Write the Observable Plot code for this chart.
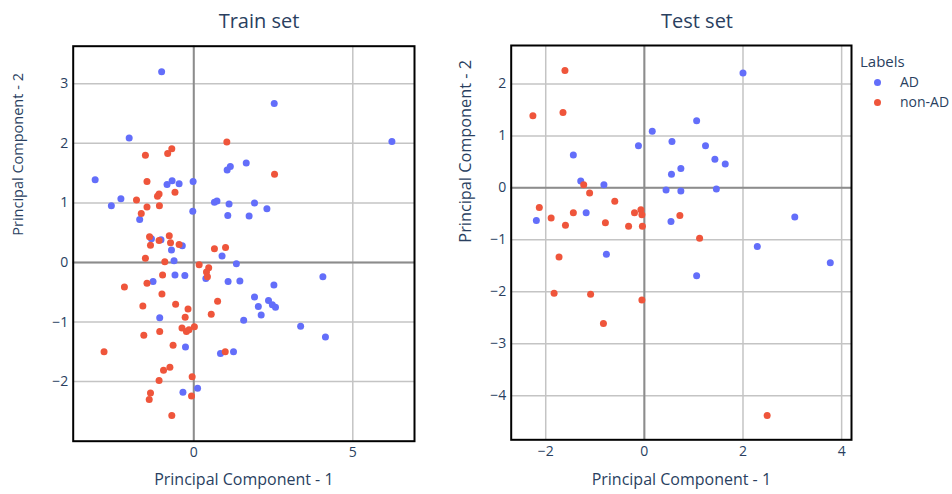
<!DOCTYPE html>
<html><head><meta charset="utf-8">
<script src="https://cdn.jsdelivr.net/npm/d3@7"></script>
<script src="https://cdn.jsdelivr.net/npm/@observablehq/plot@0.6"></script>
<style>
body{margin:0;background:#fff;}
#chart{position:relative;width:952px;height:494px;font-family:"Open Sans",sans-serif;color:#2a3f5f;overflow:hidden;}
.title{position:absolute;font-size:20px;transform:translate(-50%,-50%);white-space:nowrap;}
.panel{position:absolute;top:0;}
#legend{position:absolute;left:860px;top:50px;font-size:14px;}
#legend .lt{font-size:15px;height:22px;line-height:22px;}
#legend .item{position:relative;height:20px;line-height:20px;padding-left:40px;}
#legend .dot{position:absolute;left:14px;top:6.5px;width:7px;height:7px;border-radius:50%;}
</style></head><body><div id="chart"></div>
<script>
// ---- data ----
const labels = ["AD", "non-AD"];
const colors = ["#636efa", "#EF553B"];
const titles = ["Train set", "Test set"];
const xLabel = "Principal Component - 1";
const yLabel = "Principal Component - 2";
const legendTitle = "Labels";

const trainAD_pc1 = [-1.01,2.53,-2.03,6.23,-3.10,1.65,1.15,1.05,-0.84,-0.68,-0.46,-0.02,-2.29,-2.59,-1.70,-0.03,0.65,0.73,1.11,1.91,2.30,1.07,1.74,
  -1.33,-1.03,-0.70,-0.36,0.89,-0.62,1.34,-0.59,-0.28,0.38,1.08,1.45,-1.28,
  4.06,2.52,1.91,2.03,2.35,2.47,2.57,2.12,1.57,3.36,4.14,-1.07,-0.26,0.84,1.25,0.12,-0.34];
const trainAD_pc2 = [3.20,2.67,2.09,2.03,1.39,1.67,1.61,1.55,1.31,1.37,1.32,1.36,1.07,0.95,0.72,0.86,1.01,1.03,0.98,1.00,0.90,0.79,0.78,
  0.40,0.38,0.21,0.28,0.11,0.03,-0.02,-0.21,-0.22,-0.27,-0.32,-0.31,-0.32,
  -0.24,-0.38,-0.58,-0.74,-0.64,-0.71,-0.75,-0.88,-0.97,-1.07,-1.25,-0.93,-1.42,-1.53,-1.50,-2.11,-2.18];
const trainNon_pc1 = [1.04,-0.69,-0.82,-1.52,2.54,-1.47,-0.59,-1.09,-1.14,-1.80,-1.47,-1.08,-1.65,
  -1.39,-1.36,-1.09,-0.77,-0.73,-0.46,0.65,1.00,-1.52,-0.91,0.17,0.47,0.40,0.43,
  -0.98,-2.18,-1.47,-1.00,0.75,0.55,-1.60,-0.57,-0.18,-0.27,-1.57,-1.07,-0.37,-0.23,-0.15,0.02,-0.65,-2.82,0.99,-0.75,-0.95,-1.09,-0.05,-0.07,-1.36,-1.40,-0.69];
const trainNon_pc2 = [2.02,1.91,1.83,1.80,1.48,1.36,1.18,1.15,1.11,1.05,0.93,0.95,0.82,
  0.43,0.29,0.37,0.45,0.33,0.30,0.23,0.25,0.07,0.01,-0.04,-0.09,-0.16,-0.24,
  -0.21,-0.41,-0.35,-0.53,-0.65,-0.87,-0.73,-0.70,-0.78,-0.92,-1.22,-1.16,-1.10,-1.16,-1.13,-1.08,-1.39,-1.50,-1.50,-1.76,-1.81,-1.98,-1.92,-2.24,-2.19,-2.30,-2.57];

const testAD_pc1 = [2.00,1.06,0.16,0.56,-0.12,1.24,1.43,1.64,-1.44,0.74,0.55,-1.29,-0.82,0.44,0.74,1.46,-1.18,-2.19,0.54,3.05,2.29,3.77,-0.77,1.06];
const testAD_pc2 = [2.21,1.29,1.09,0.89,0.81,0.81,0.55,0.46,0.63,0.37,0.26,0.13,0.06,-0.04,-0.06,-0.02,-0.48,-0.63,-0.65,-0.56,-1.13,-1.44,-1.28,-1.69];
const testNon_pc1 = [-1.61,-2.26,-1.65,-1.23,-1.11,-0.60,-2.13,-1.89,-1.44,-1.60,-0.79,-0.32,-0.20,-0.07,-0.05,-0.04,0.72,1.12,-1.73,-1.83,-1.09,-0.05,-0.83,2.49];
const testNon_pc2 = [2.26,1.39,1.45,0.06,-0.10,-0.26,-0.38,-0.58,-0.48,-0.72,-0.67,-0.74,-0.48,-0.42,-0.52,-0.74,-0.53,-0.97,-1.33,-2.03,-2.05,-2.16,-2.61,-4.38];

const trainXTicks = [0, 5];
const trainYTicks = [-2, -1, 0, 1, 2, 3];
const testXTicks = [-2, 0, 2, 4];
const testYTicks = [-4, -3, -2, -1, 0, 1, 2];

// ---- build ----
function rows(xs, ys, label) { return xs.map((x, i) => ({pc1: x, pc2: ys[i], label})); }
const trainData = [...rows(trainAD_pc1, trainAD_pc2, labels[0]), ...rows(trainNon_pc1, trainNon_pc2, labels[1])];
const testData = [...rows(testAD_pc1, testAD_pc2, labels[0]), ...rows(testNon_pc1, testNon_pc2, labels[1])];
const fmt = d => d < 0 ? "\u2212" + Math.abs(d) : String(d);

function panel(data, opt) {
  return Plot.plot({
    width: opt.width, height: 494,
    marginLeft: opt.ml, marginRight: opt.mr, marginTop: opt.mt, marginBottom: opt.mb,
    style: {fontFamily: '"Open Sans", sans-serif', fontSize: "14px", color: "#2a3f5f", background: "transparent", overflow: "visible"},
    x: {domain: opt.xd, label: null},
    y: {domain: opt.yd, label: null},
    color: {domain: labels, range: colors},
    marks: [
      Plot.gridX(opt.xt, {stroke: "#c4c4c4", strokeOpacity: 1, strokeWidth: 1.5}),
      Plot.gridY(opt.yt, {stroke: "#c4c4c4", strokeOpacity: 1, strokeWidth: 1.5}),
      Plot.ruleX([0], {stroke: "#8c8c8c", strokeWidth: 2}),
      Plot.ruleY([0], {stroke: "#8c8c8c", strokeWidth: 2}),
      Plot.axisX(opt.xt, {tickSize: 0, tickPadding: 6, tickFormat: fmt, label: null}),
      Plot.axisY(opt.yt, {tickSize: 0, tickPadding: 5, tickFormat: fmt, label: null}),
      Plot.dot(data, {x: "pc1", y: "pc2", fill: "label", r: 3.5, stroke: "none"}),
      Plot.frame({stroke: "#000", strokeWidth: 2}),
      Plot.text([xLabel], {text: d => d, frameAnchor: "bottom", dy: opt.xdy, fontSize: 16, fill: "#2a3f5f"}),
      Plot.text([yLabel], {text: d => d, frameAnchor: "left", dx: opt.ydx, dy: opt.ydy, rotate: -90, fontSize: opt.yfs, fill: "#2a3f5f"})
    ]
  });
}

const chart = document.getElementById("chart");
const left = panel(trainData, {width: 430, ml: 72.7, mr: 16, mt: 45.7, mb: 53.3,
  xd: [-3.79, 6.94], yd: [-3.0, 3.63], xt: trainXTicks, yt: trainYTicks, xdy: 43.5, ydx: -54.7, ydy: -8, yfs: 14.5});
left.classList.add("panel"); left.style.left = "0px"; left.style.position = "absolute";
chart.appendChild(left);
const right = panel(testData, {width: 423, ml: 70.7, mr: 12, mt: 45, mb: 54.7,
  xd: [-2.70, 4.2], yd: [-4.85, 2.74], xt: testXTicks, yt: testYTicks, xdy: 45, ydx: -45.7, ydy: 0, yfs: 16.3});
right.style.position = "absolute"; right.style.left = "440px"; right.style.top = "0px";
chart.appendChild(right);

[[titles[0], 259], [titles[1], 697]].forEach(([t, x]) => {
  const d = document.createElement("div");
  d.className = "title"; d.textContent = t; d.style.left = x + "px"; d.style.top = "20px";
  chart.appendChild(d);
});

const lg = document.createElement("div"); lg.id = "legend";
const lt = document.createElement("div"); lt.className = "lt"; lt.textContent = legendTitle; lg.appendChild(lt);
labels.forEach((l, i) => {
  const it = document.createElement("div"); it.className = "item";
  const dot = document.createElement("span"); dot.className = "dot"; dot.style.background = colors[i];
  it.appendChild(dot); it.appendChild(document.createTextNode(l)); lg.appendChild(it);
});
chart.appendChild(lg);
</script></body></html>
